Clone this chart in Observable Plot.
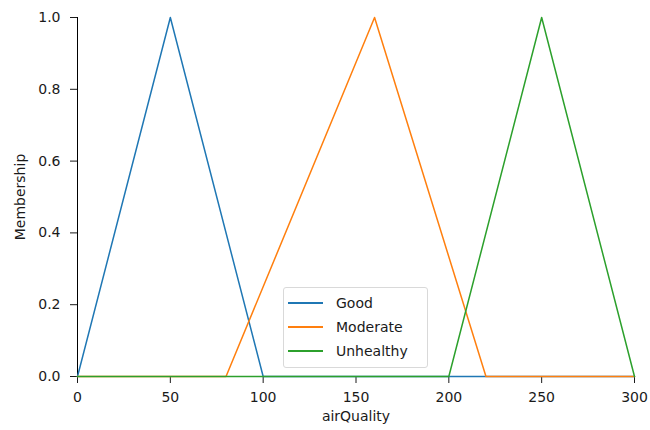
<!DOCTYPE html>
<html>
<head>
<meta charset="utf-8">
<script src="https://cdn.jsdelivr.net/npm/d3@7"></script>
<script src="https://cdn.jsdelivr.net/npm/@observablehq/plot@0.6"></script>
<style>
  html, body { margin: 0; padding: 0; background: #fff; }
  #wrap { position: relative; width: 650px; height: 430px; font-family: "DejaVu Sans", sans-serif; }
  #legend { position: absolute; left: 283px; top: 287px; width: 145px; height: 81px; box-sizing: border-box;
    border: 1px solid #d9d9d9; border-radius: 3px; background: rgba(255,255,255,0.8); font-size: 14px; color: #1a1a1a; }
  .row { position: absolute; left: 4px; height: 20px; display: flex; align-items: center; }
  .sw { display: block; width: 35px; height: 2px; margin-right: 13px; }
</style>
</head>
<body>
<div id="wrap"></div>
<script>
const seriesNames = ["Good", "Moderate", "Unhealthy"];
const seriesColors = ["#1f77b4", "#ff7f0e", "#2ca02c"];
const goodX = [0, 50, 100, 300];
const goodY = [0, 1, 0, 0];
const moderateX = [0, 80, 160, 220, 300];
const moderateY = [0, 0, 1, 0, 0];
const unhealthyX = [0, 200, 250, 300];
const unhealthyY = [0, 0, 1, 0];
const xTicks = [0, 50, 100, 150, 200, 250, 300];
const yTicks = [0, 0.2, 0.4, 0.6, 0.8, 1.0];

const xs = [goodX, moderateX, unhealthyX];
const ys = [goodY, moderateY, unhealthyY];
const data = [];
seriesNames.forEach((name, i) => {
  xs[i].forEach((x, j) => data.push({series: name, x, y: ys[i][j]}));
});

const chart = Plot.plot({
  width: 650,
  height: 430,
  marginLeft: 77,
  marginRight: 16,
  marginTop: 17,
  marginBottom: 54,
  style: {fontFamily: "DejaVu Sans, sans-serif", fontSize: "14px", color: "#1a1a1a", background: "white"},
  x: {domain: [0, 300], ticks: xTicks, tickFormat: d => String(d), tickSize: 7, tickPadding: 9,
      label: "airQuality", labelAnchor: "center", labelArrow: "none", labelOffset: 44},
  y: {domain: [0, 1], ticks: yTicks, tickFormat: d => d.toFixed(1), tickSize: 7, tickPadding: 10,
      label: "Membership", labelAnchor: "center", labelArrow: "none", labelOffset: 62},
  color: {domain: seriesNames, range: seriesColors},
  marks: [
    Plot.ruleX([0], {stroke: "#000", strokeWidth: 1}),
    Plot.ruleY([0], {stroke: "#000", strokeWidth: 1}),
    Plot.line(data, {x: "x", y: "y", z: "series", stroke: "series", strokeWidth: 1.5})
  ]
});
const wrap = document.getElementById("wrap");
wrap.appendChild(chart);

const legend = document.createElement("div");
legend.id = "legend";
seriesNames.forEach((name, i) => {
  const row = document.createElement("div");
  row.className = "row";
  row.style.top = (5 + i * 24) + "px";
  const sw = document.createElement("span");
  sw.className = "sw";
  sw.style.background = seriesColors[i];
  const t = document.createElement("span");
  t.textContent = name;
  row.appendChild(sw);
  row.appendChild(t);
  legend.appendChild(row);
});
wrap.appendChild(legend);
</script>
</body>
</html>
